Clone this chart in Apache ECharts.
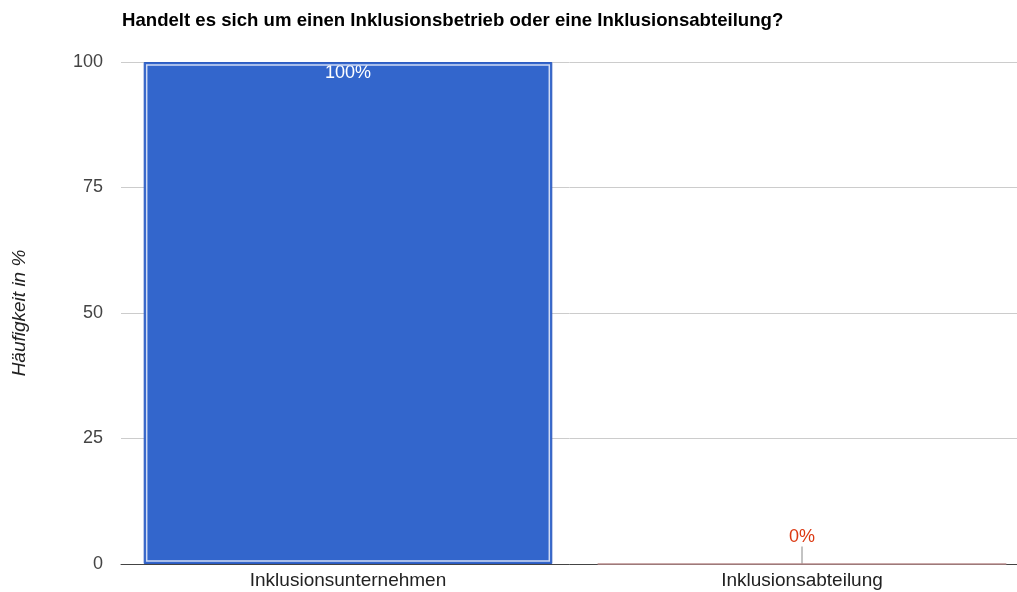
<!DOCTYPE html>
<html>
<head>
<meta charset="utf-8">
<script src="https://cdn.jsdelivr.net/npm/echarts@6/dist/echarts.min.js"></script>
<style>
  html, body { margin: 0; padding: 0; background: #fff; }
  #chart { width: 1017px; height: 592px; }
</style>
</head>
<body>
<div id="chart"></div>
<script>
const titleText = 'Handelt es sich um einen Inklusionsbetrieb oder eine Inklusionsabteilung?';
const categories = ['Inklusionsunternehmen', 'Inklusionsabteilung'];
const values = [100, 0];
const barColors = ['#3366cc', '#dc3912'];
const yTicks = [0, 25, 50, 75, 100];
const yAxisName = 'Häufigkeit in %';

const font = '"Liberation Sans", Arial, Helvetica, sans-serif';
const BAR_RATIO = 0.9;

const chart = echarts.init(document.getElementById('chart'));

const barData = values.map((v, i) => ({
  value: v,
  itemStyle: {
    color: barColors[i],
    borderColor: i === 0 ? '#2e5cc0' : '#b98c8c',
    borderWidth: 1
  },
  label: v > 0
    ? { position: 'insideTop', color: '#ffffff', distance: 2 }
    : { position: 'top', color: barColors[i], distance: 17 },
  labelLine: { show: v === 0, lineStyle: { color: '#888', width: 1 } }
}));

// Light inner frame just inside each non-empty bar
function renderInnerFrame(params, api) {
  const v = api.value(1);
  if (!v) return null;
  const top = api.coord([api.value(0), v]);
  const base = api.coord([api.value(0), 0]);
  const w = api.size([1, 0])[0] * BAR_RATIO;
  const inset = 3;
  return {
    type: 'rect',
    shape: {
      x: top[0] - w / 2 + inset,
      y: top[1] + inset,
      width: w - inset * 2,
      height: base[1] - top[1] - inset * 2
    },
    style: { fill: null, stroke: '#cfdaf3', lineWidth: 1.5 },
    silent: true
  };
}

chart.setOption({
  animation: false,
  title: {
    text: titleText,
    left: 117,
    top: 6,
    textStyle: { fontFamily: font, fontSize: 18.6, fontWeight: 'bold', color: '#000' }
  },
  // plot area runs a little past the right edge of the canvas
  grid: {
    left: 121, width: 908, top: 62, bottom: 28,
    containLabel: false,
    outerBoundsMode: 'none'
  },
  xAxis: {
    type: 'category',
    data: categories,
    axisTick: { show: false },
    axisLine: { lineStyle: { color: '#444', width: 1 } },
    axisLabel: { fontFamily: font, fontSize: 19, color: '#222', margin: 7 }
  },
  yAxis: {
    type: 'value',
    min: yTicks[0],
    max: yTicks[yTicks.length - 1],
    interval: yTicks[1] - yTicks[0],
    name: yAxisName,
    nameLocation: 'middle',
    nameGap: 92,
    nameTextStyle: { fontFamily: font, fontSize: 19, fontStyle: 'italic', color: '#222' },
    axisLabel: { fontFamily: font, fontSize: 18, color: '#444', margin: 18 },
    splitLine: { lineStyle: { color: '#cccccc', width: 1 } },
    axisLine: { show: false },
    axisTick: { show: false }
  },
  series: [
    {
      type: 'bar',
      data: barData,
      barWidth: (BAR_RATIO * 100) + '%',
      z: 2,
      label: {
        show: true,
        fontFamily: font,
        fontSize: 18,
        formatter: p => p.value + '%'
      },
      labelLine: { show: true },
      labelLayout: () => ({})
    },
    {
      type: 'custom',
      data: values.map((v, i) => [i, v]),
      renderItem: renderInnerFrame,
      z: 3,
      silent: true
    }
  ]
});
</script>
</body>
</html>
